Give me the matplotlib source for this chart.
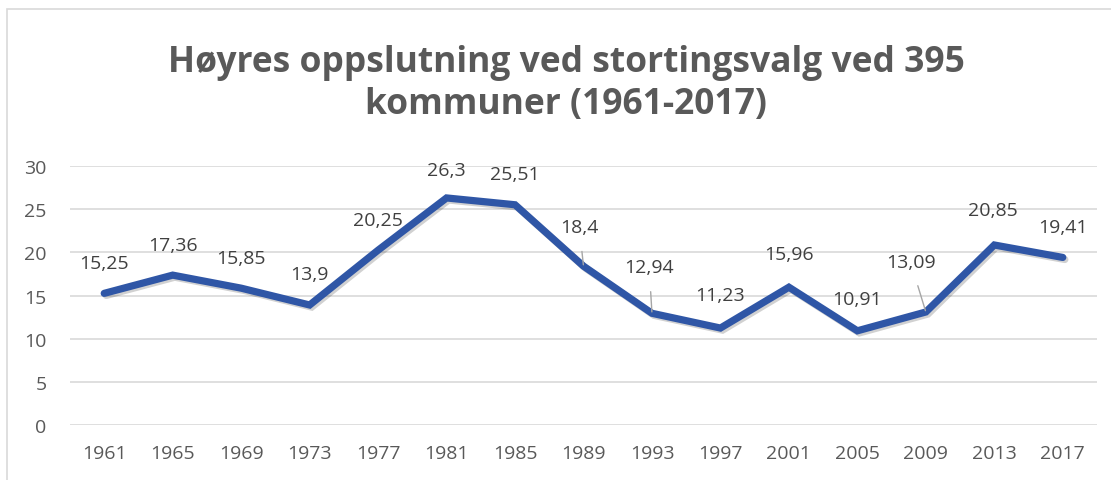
import matplotlib.pyplot as plt
import matplotlib.patheffects as pe
from matplotlib.patches import Rectangle

# Data
years = ['1961', '1965', '1969', '1973', '1977', '1981', '1985', '1989',
         '1993', '1997', '2001', '2005', '2009', '2013', '2017']
share = [15.25, 17.36, 15.85, 13.9, 20.25, 26.3, 25.51, 18.4,
         12.94, 11.23, 15.96, 10.91, 13.09, 20.85, 19.41]
labels = ['15,25', '17,36', '15,85', '13,9', '20,25', '26,3', '25,51', '18,4',
          '12,94', '11,23', '15,96', '10,91', '13,09', '20,85', '19,41']

# label offsets in points (dx, dy) and whether a leader line is drawn
offsets = [(0, 22), (0, 22), (0, 22), (0, 22), (0, 22), (0, 20), (0, 22), (-3, 28),
           (-2, 33), (0, 24), (0, 24), (0, 23), (-11, 36), (-1, 25), (0, 22)]
leader = [False] * 7 + [True, True] + [False] * 3 + [True] + [False] * 2

gray = '#595959'
plt.rcParams['font.family'] = ['Open Sans', 'DejaVu Sans']

fig = plt.figure(figsize=(11.11, 4.81), dpi=100)
fig.patches.append(Rectangle((7 / 1111, -0.1), 1.2, (481 - 10) / 481 + 0.1,
                             transform=fig.transFigure, fill=False,
                             edgecolor='#d9d9d9', linewidth=1.2))

ax = fig.add_axes([70 / 1111, 55 / 481, 1027 / 1111, 259 / 481])
x = list(range(len(years)))
ax.plot(x, share, color='#2F56A6', linewidth=5.2, solid_capstyle='round',
        solid_joinstyle='miter',
        path_effects=[pe.SimpleLineShadow(offset=(1.5, -1.5), shadow_color='#000000', alpha=0.18),
                      pe.Normal()], zorder=3)

for i, (xi, v) in enumerate(zip(x, share)):
    dx, dy = offsets[i]
    if leader[i]:
        ax.annotate(labels[i], (xi, v), xytext=(dx, dy), textcoords='offset points',
                    ha='center', va='center', fontsize=14, color='#404040',
                    arrowprops=dict(arrowstyle='-', color='#a6a6a6', lw=1,
                                    shrinkA=9, shrinkB=1), zorder=4)
    else:
        ax.annotate(labels[i], (xi, v), xytext=(dx, dy), textcoords='offset points',
                    ha='center', va='center', fontsize=14, color='#404040', zorder=4)

ax.set_xlim(-0.5, len(years) - 0.5)
ax.set_ylim(0, 30)
ax.set_yticks(range(0, 31, 5))
ax.set_xticks(x)
ax.set_xticklabels(years)
ax.tick_params(axis='both', length=0, labelsize=14, labelcolor=gray)
ax.tick_params(axis='x', pad=14)
ax.tick_params(axis='y', pad=17)
ax.grid(axis='y', color='#d9d9d9', linewidth=1.2)
ax.set_axisbelow(True)
for s in ax.spines.values():
    s.set_visible(False)

fig.text(566 / 1111, 1 - 84 / 481, 'Høyres oppslutning ved stortingsvalg ved 395\nkommuner (1961-2017)',
         ha='center', va='center', fontsize=25.5, fontweight='bold', color=gray,
         linespacing=1.25)

fig.savefig('out.png', dpi=100)
